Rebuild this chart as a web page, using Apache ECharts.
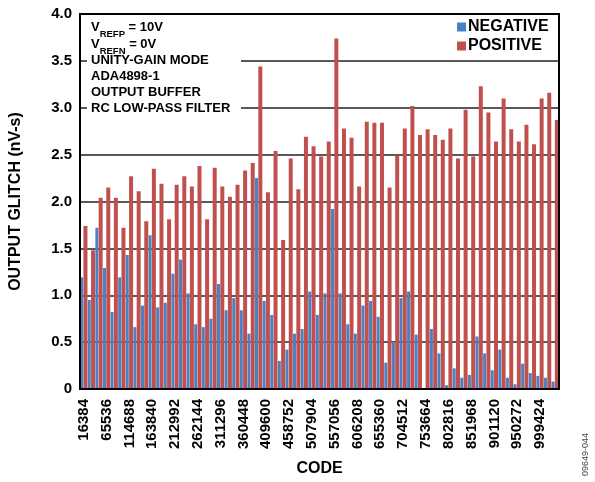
<!DOCTYPE html>
<html><head><meta charset="utf-8">
<script src="https://cdn.jsdelivr.net/npm/echarts@6/dist/echarts.min.js"></script>
<style>html,body{margin:0;padding:0;background:#fff}#c{width:595px;height:482px}</style>
</head><body><div id="c"></div>
<script>
const codes = [16384,32768,49152,65536,81920,98304,114688,131072,147456,163840,
180224,196608,212992,229376,245760,262144,278528,294912,311296,327680,
344064,360448,376832,393216,409600,425984,442368,458752,475136,491520,
507904,524288,540672,557056,573440,589824,606208,622592,638976,655360,
671744,688128,704512,720896,737280,753664,770048,786432,802816,819200,
835584,851968,868352,884736,901120,917504,933888,950272,966656,983040,
999424,1015808,1032192];
const negative = [1.19,0.95,1.72,1.29,0.82,1.19,1.43,0.66,0.89,1.64,
0.87,0.92,1.23,1.38,1.02,0.69,0.66,0.75,1.12,0.84,
0.97,0.84,0.59,2.25,0.94,0.79,0.30,0.42,0.59,0.64,
1.04,0.79,1.02,1.92,1.02,0.69,0.59,0.89,0.94,0.77,
0.28,0.50,0.97,1.04,0.58,0.00,0.64,0.38,0.04,0.22,
0.12,0.15,0.56,0.38,0.20,0.42,0.12,0.05,0.27,0.17,
0.14,0.12,0.08];
const positive = [1.74,1.48,2.04,2.15,2.04,1.72,2.27,2.11,1.79,2.35,
2.19,1.81,2.18,2.27,2.16,2.38,1.81,2.36,2.16,2.05,
2.18,2.33,2.41,3.44,2.10,2.54,1.59,2.46,2.13,2.69,
2.59,2.48,2.64,3.74,2.78,2.68,2.16,2.85,2.84,2.84,
2.15,2.49,2.78,3.02,2.71,2.77,2.71,2.66,2.78,2.46,
2.98,2.48,3.23,2.95,2.64,3.10,2.77,2.64,2.82,2.61,
3.10,3.16,2.87];
const seriesNames = ['NEGATIVE','POSITIVE'];
const yTicks = [0,0.5,1.0,1.5,2.0,2.5,3.0,3.5,4.0];
const noteLines = ['UNITY-GAIN MODE','ADA4898-1','OUTPUT BUFFER','RC LOW-PASS FILTER'];

const FONT = 'Arial, "Liberation Sans", Helvetica, sans-serif';
const chart = echarts.init(document.getElementById('c'), null, {renderer:'canvas'});
const bold = {fontFamily: FONT, fontWeight: 'bold', color: '#000'};

const graphics = [
  {type:'rect', left:87, top:16, shape:{width:154, height:102}, style:{fill:'#fff'}, z:10},
  {type:'text', left:91, top:21, z:11, style:{
    text:'{m|V}{s|REFP}{m| = 10V}',
    rich:{m:Object.assign({fontSize:13, lineHeight:18, verticalAlign:'top'}, bold),
          s:Object.assign({fontSize:9.5, lineHeight:18, verticalAlign:'bottom'}, bold)}}},
  {type:'text', left:91, top:38, z:11, style:{
    text:'{m|V}{s|REFN}{m| = 0V}',
    rich:{m:Object.assign({fontSize:13, lineHeight:18, verticalAlign:'top'}, bold),
          s:Object.assign({fontSize:9.5, lineHeight:18, verticalAlign:'bottom'}, bold)}}}
];
noteLines.forEach((t,i)=>{
  graphics.push({type:'text', left:91, top:54 + i*16, z:11,
    style:{text:t, fontSize:13, fontWeight:'bold', fontFamily:FONT, fill:'#000'}});
});
graphics.push({type:'text', x:586, y:476, rotation:Math.PI/2, z:11,
  style:{text:'09649-044', fontSize:9, fontFamily:FONT, fill:'#444', textAlign:'left', textVerticalAlign:'middle'}});

chart.setOption({
  animation:false,
  backgroundColor:'#fff',
  grid:{left:78, right:36, top:14, bottom:86, show:true, borderColor:'#000', borderWidth:2, backgroundColor:'transparent', z:3},
  legend:{
    data:seriesNames, orient:'vertical', left:455, top:16, itemWidth:9, itemHeight:9, itemGap:3,
    icon:'rect', backgroundColor:'#fff', padding:[3,4,3,2], z:12,
    textStyle:Object.assign({fontSize:16, padding:[0,0,0,-3]}, bold)
  },
  xAxis:{
    type:'category', data:codes, boundaryGap:true,
    name:'CODE', nameLocation:'middle', nameGap:72,
    nameTextStyle:Object.assign({fontSize:16}, bold),
    axisLine:{show:true, lineStyle:{color:'#000', width:2}},
    axisTick:{show:false},
    axisLabel:Object.assign({rotate:90, interval:2, fontSize:15, margin:10}, bold),
    splitLine:{show:false}
  },
  yAxis:{
    type:'value', min:0, max:4, interval:0.5,
    name:'OUTPUT GLITCH (nV-s)', nameLocation:'middle', nameGap:56,
    nameTextStyle:Object.assign({fontSize:16}, bold),
    axisLine:{show:false}, axisTick:{show:false},
    axisLabel:Object.assign({fontSize:15, margin:8,
      formatter:v=> v===0 ? '0' : v.toFixed(1)}, bold),
    splitLine:{show:true, lineStyle:{color:'#222', width:1.5}}
  },
  series:[
    {name:seriesNames[0], type:'bar', data:negative, barWidth:3, barGap:'10%', itemStyle:{color:'#4682C4'}},
    {name:seriesNames[1], type:'bar', data:positive, barWidth:4, barGap:'10%', itemStyle:{color:'#C0504D'}}
  ],
  graphic:graphics
});
</script>
</body></html>
